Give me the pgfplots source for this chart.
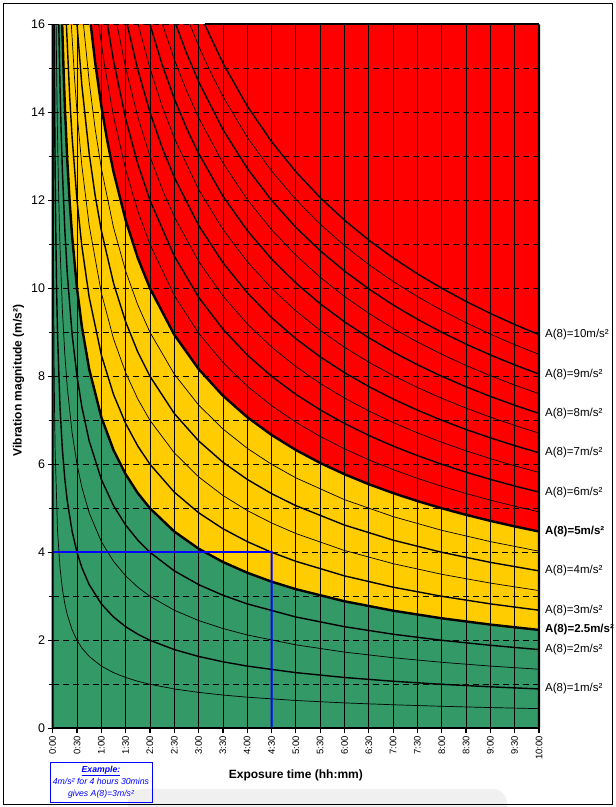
\documentclass[border=0pt]{standalone}
\usepackage{pgfplots}
\pgfplotsset{compat=1.18}
\usepackage{fontspec}
\setmainfont{Liberation Sans}
\definecolor{zgreen}{HTML}{339966}
\definecolor{zyellow}{HTML}{FFCC00}
\definecolor{zred}{HTML}{FF0000}
\begin{document}
\begin{tikzpicture}[x=1bp,y=1bp,
  half/.style={black, line width=0.7bp},
  full/.style={black, line width=1.4bp},
  bound/.style={black, line width=2.4bp},
  vgrid/.style={black, line width=0.8bp},
  hgrid/.style={black, line width=0.9bp, dash pattern=on 6bp off 4bp},
  lab/.style={anchor=west, inner sep=0, xshift=6bp, font=\fontsize{11.5bp}{13bp}\selectfont},
  labb/.style={anchor=west, inner sep=0, xshift=6bp, font=\fontsize{11.5bp}{13bp}\selectfont\bfseries}]
\path[use as bounding box] (0,0) rectangle (616,807);
\fill[gray!12, rounded corners=14bp] (128,-20) rectangle (507,18);
\draw[line width=0.9bp] (3,3) rectangle (612,804);
\node[draw=blue, line width=0.9bp, minimum width=102bp, minimum height=40bp, inner sep=0, align=center, text=blue,
  font=\fontsize{8.7bp}{12bp}\selectfont\itshape] at (101,25)
  {\textbf{\underline{Example:}}\\4m/s² for 4 hours 30mins\\gives A(8)=3m/s²};
\begin{axis}[
  at={(52.7bp,78.7bp)}, anchor=south west, scale only axis,
  width=486.3bp, height=704bp,
  xmin=0, xmax=10, ymin=0, ymax=16,
  clip=false,
  axis on top,
  axis line style={draw=none},
  tick pos=left, tick align=outside,
  major tick length=5bp, minor tick length=4bp,
  every tick/.style={black, line width=1.2bp},
  xtick={0,0.5,1,1.5,2,2.5,3,3.5,4,4.5,5,5.5,6,6.5,7,7.5,8,8.5,9,9.5,10},
  xticklabels={0:00,0:30,1:00,1:30,2:00,2:30,3:00,3:30,4:00,4:30,5:00,5:30,6:00,6:30,7:00,7:30,8:00,8:30,9:00,9:30,10:00},
  ytick={0,2,4,6,8,10,12,14,16},
  minor ytick={1,3,5,7,9,11,13,15},
  /pgf/number format/assume math mode=true,
  xticklabel style={rotate=90, anchor=east, font=\fontsize{9.5bp}{11bp}\selectfont, inner sep=2.5bp},
  yticklabel style={font=\fontsize{12.5bp}{14bp}\selectfont, inner sep=2.5bp},
  xlabel={Exposure time (hh:mm)},
  ylabel={Vibration magnitude (m/s²)},
  xlabel style={at={(axis description cs:0.5,0)}, anchor=center, yshift=-46.7bp, font=\fontsize{12bp}{14bp}\selectfont\bfseries},
  ylabel style={at={(axis description cs:0,0.5)}, anchor=center, yshift=34.2bp, xshift=-4bp, font=\fontsize{12bp}{14bp}\selectfont\bfseries},
]
% background areas
\addplot[fill=zred, draw=none] coordinates {(0,16) (10,16)} \closedcycle;
\addplot[fill=zyellow, draw=none] coordinates {(0,16) (0.78125,16) (0.875,15.119) (1,14.142) (1.125,13.333) (1.25,12.649) (1.5,11.547) (1.75,10.690) (2,10) (2.5,8.944) (3,8.165) (3.5,7.559) (4,7.071) (4.5,6.667) (5,6.325) (5.5,6.030) (6,5.774) (6.5,5.547) (7,5.345) (7.5,5.164) (8,5) (8.5,4.851) (9,4.714) (9.5,4.588) (10,4.472)} \closedcycle;
\addplot[fill=zgreen, draw=none] coordinates {(0,16) (0.1953,16) (0.225,14.907) (0.25,14.142) (0.3,12.910) (0.35,11.952) (0.4,11.180) (0.5,10) (0.6,9.129) (0.75,8.165) (1,7.071) (1.25,6.325) (1.5,5.774) (1.75,5.345) (2,5) (2.5,4.472) (3,4.082) (3.5,3.780) (4,3.536) (4.5,3.333) (5,3.162) (6,2.887) (7,2.673) (8,2.5) (9,2.357) (10,2.236)} \closedcycle;
% grid
\addplot[vgrid] coordinates {(0.5,0) (0.5,16)};
\addplot[vgrid] coordinates {(1,0) (1,16)};
\addplot[vgrid] coordinates {(1.5,0) (1.5,16)};
\addplot[vgrid] coordinates {(2,0) (2,16)};
\addplot[vgrid] coordinates {(2.5,0) (2.5,16)};
\addplot[vgrid] coordinates {(3,0) (3,16)};
\addplot[vgrid] coordinates {(3.5,0) (3.5,16)};
\addplot[vgrid] coordinates {(4,0) (4,16)};
\addplot[vgrid] coordinates {(4.5,4) (4.5,16)};
\addplot[vgrid] coordinates {(5,0) (5,16)};
\addplot[vgrid] coordinates {(5.5,0) (5.5,16)};
\addplot[vgrid] coordinates {(6,0) (6,16)};
\addplot[vgrid] coordinates {(6.5,0) (6.5,16)};
\addplot[vgrid] coordinates {(7,0) (7,16)};
\addplot[vgrid] coordinates {(7.5,0) (7.5,16)};
\addplot[vgrid] coordinates {(8,0) (8,16)};
\addplot[vgrid] coordinates {(8.5,0) (8.5,16)};
\addplot[vgrid] coordinates {(9,0) (9,16)};
\addplot[vgrid] coordinates {(9.5,0) (9.5,16)};
\addplot[hgrid] coordinates {(0,1) (10,1)};
\addplot[hgrid] coordinates {(0,2) (10,2)};
\addplot[hgrid] coordinates {(0,3) (10,3)};
\addplot[hgrid] coordinates {(4.5,4) (10,4)};
\addplot[hgrid] coordinates {(0,5) (10,5)};
\addplot[hgrid] coordinates {(0,6) (10,6)};
\addplot[hgrid] coordinates {(0,7) (10,7)};
\addplot[hgrid] coordinates {(0,8) (10,8)};
\addplot[hgrid] coordinates {(0,9) (10,9)};
\addplot[hgrid] coordinates {(0,10) (10,10)};
\addplot[hgrid] coordinates {(0,11) (10,11)};
\addplot[hgrid] coordinates {(0,12) (10,12)};
\addplot[hgrid] coordinates {(0,13) (10,13)};
\addplot[hgrid] coordinates {(0,14) (10,14)};
\addplot[hgrid] coordinates {(0,15) (10,15)};
\addplot[hgrid] coordinates {(0,16) (10,16)};
% curves
\addplot[half] coordinates {(0.0078,16) (0.01,14.142) (0.02,10) (0.03,8.165) (0.04,7.071) (0.05,6.325) (0.1,4.472) (0.15,3.651) (0.2,3.162) (0.25,2.828) (0.3,2.582) (0.4,2.236) (0.5,2) (0.6,1.826) (0.75,1.633) (1,1.414) (1.25,1.265) (1.5,1.155) (1.75,1.069) (2,1) (2.5,0.894) (3,0.816) (3.5,0.756) (4,0.707) (5,0.632) (6,0.577) (7,0.535) (8,0.5) (9,0.471) (10,0.447)};
\addplot[full] coordinates {(0.03125,16) (0.04,14.142) (0.05,12.649) (0.06,11.547) (0.08,10) (0.1,8.944) (0.15,7.303) (0.2,6.325) (0.25,5.657) (0.3,5.164) (0.4,4.472) (0.5,4) (0.6,3.651) (0.75,3.266) (1,2.828) (1.25,2.530) (1.5,2.309) (1.75,2.138) (2,2) (2.5,1.789) (3,1.633) (3.5,1.512) (4,1.414) (5,1.265) (6,1.155) (7,1.069) (8,1) (9,0.943) (10,0.894)};
\addplot[half] coordinates {(0.0703,16) (0.08,15) (0.1,13.416) (0.125,12) (0.15,10.954) (0.2,9.487) (0.25,8.485) (0.3,7.746) (0.4,6.708) (0.5,6) (0.6,5.477) (0.75,4.899) (1,4.243) (1.25,3.795) (1.5,3.464) (1.75,3.207) (2,3) (2.5,2.683) (3,2.449) (3.5,2.268) (4,2.121) (5,1.897) (6,1.732) (7,1.604) (8,1.5) (9,1.414) (10,1.342)};
\addplot[full] coordinates {(0.125,16) (0.15,14.606) (0.175,13.522) (0.2,12.649) (0.25,11.314) (0.3,10.328) (0.4,8.944) (0.5,8) (0.6,7.303) (0.75,6.532) (1,5.657) (1.25,5.060) (1.5,4.619) (1.75,4.276) (2,4) (2.5,3.578) (3,3.266) (3.5,3.024) (4,2.828) (5,2.530) (6,2.309) (7,2.138) (8,2) (9,1.886) (10,1.789)};
\addplot[bound] coordinates {(0.1953,16) (0.225,14.907) (0.25,14.142) (0.3,12.910) (0.35,11.952) (0.4,11.180) (0.5,10) (0.6,9.129) (0.75,8.165) (1,7.071) (1.25,6.325) (1.5,5.774) (1.75,5.345) (2,5) (2.5,4.472) (3,4.082) (3.5,3.780) (4,3.536) (4.5,3.333) (5,3.162) (6,2.887) (7,2.673) (8,2.5) (9,2.357) (10,2.236)};
\addplot[full] coordinates {(0.28125,16) (0.35,14.343) (0.4,13.416) (0.5,12) (0.6,10.954) (0.75,9.798) (1,8.485) (1.25,7.589) (1.5,6.928) (1.75,6.414) (2,6) (2.5,5.367) (3,4.899) (3.5,4.536) (4,4.243) (4.5,4) (5,3.795) (6,3.464) (7,3.207) (8,3) (9,2.828) (10,2.683)};
\addplot[half] coordinates {(0.3828,16) (0.45,14.757) (0.5,14) (0.6,12.780) (0.75,11.431) (1,9.899) (1.25,8.854) (1.5,8.083) (1.75,7.483) (2,7) (2.5,6.261) (3,5.715) (3.5,5.292) (4,4.950) (4.5,4.667) (5,4.427) (6,4.041) (7,3.742) (8,3.5) (9,3.300) (10,3.130)};
\addplot[full] coordinates {(0.5,16) (0.6,14.606) (0.75,13.064) (0.875,12.095) (1,11.314) (1.25,10.119) (1.5,9.238) (1.75,8.552) (2,8) (2.5,7.155) (3,6.532) (3.5,6.047) (4,5.657) (4.5,5.333) (5,5.060) (6,4.619) (7,4.276) (8,4) (9,3.771) (10,3.578)};
\addplot[half] coordinates {(0.6328,16) (0.75,14.697) (0.875,13.608) (1,12.728) (1.25,11.384) (1.5,10.392) (1.75,9.621) (2,9) (2.5,8.050) (3,7.348) (3.5,6.804) (4,6.364) (4.5,6) (5,5.692) (6,5.196) (7,4.811) (8,4.5) (9,4.243) (10,4.025)};
\addplot[bound] coordinates {(0.78125,16) (0.875,15.119) (1,14.142) (1.125,13.333) (1.25,12.649) (1.5,11.547) (1.75,10.690) (2,10) (2.5,8.944) (3,8.165) (3.5,7.559) (4,7.071) (4.5,6.667) (5,6.325) (5.5,6.030) (6,5.774) (6.5,5.547) (7,5.345) (7.5,5.164) (8,5) (8.5,4.851) (9,4.714) (9.5,4.588) (10,4.472)};
\addplot[half] coordinates {(0.9453,16) (1.0625,15.092) (1.25,13.914) (1.5,12.702) (1.75,11.759) (2,11) (2.5,9.839) (3,8.981) (3.5,8.315) (4,7.778) (4.5,7.333) (5,6.957) (5.5,6.633) (6,6.351) (6.5,6.102) (7,5.880) (7.5,5.680) (8,5.5) (8.5,5.336) (9,5.185) (9.5,5.047) (10,4.919)};
\addplot[full] coordinates {(1.125,16) (1.25,15.179) (1.5,13.856) (1.75,12.829) (2,12) (2.5,10.733) (3,9.798) (3.5,9.071) (4,8.485) (4.5,8) (5,7.589) (5.5,7.236) (6,6.928) (6.5,6.656) (7,6.414) (7.5,6.197) (8,6) (8.5,5.821) (9,5.657) (9.5,5.506) (10,5.367)};
\addplot[half] coordinates {(1.3203,16) (1.5,15.011) (1.75,13.897) (2,13) (2.25,12.257) (2.5,11.628) (3,10.614) (3.5,9.827) (4,9.192) (4.5,8.667) (5,8.222) (5.5,7.839) (6,7.506) (6.5,7.211) (7,6.949) (7.5,6.713) (8,6.5) (8.5,6.306) (9,6.128) (9.5,5.965) (10,5.814)};
\addplot[full] coordinates {(1.53125,16) (1.75,14.967) (2,14) (2.25,13.199) (2.5,12.522) (3,11.431) (3.5,10.583) (4,9.899) (4.5,9.333) (5,8.854) (5.5,8.442) (6,8.083) (6.5,7.766) (7,7.483) (7.5,7.230) (8,7) (8.5,6.791) (9,6.600) (9.5,6.424) (10,6.261)};
\addplot[half] coordinates {(1.7578,16) (2,15) (2.25,14.142) (2.5,13.416) (3,12.247) (3.5,11.339) (4,10.607) (4.5,10) (5,9.487) (5.5,9.045) (6,8.660) (6.5,8.321) (7,8.018) (7.5,7.746) (8,7.5) (8.5,7.276) (9,7.071) (9.5,6.883) (10,6.708)};
\addplot[full] coordinates {(2,16) (2.25,15.085) (2.5,14.311) (2.75,13.645) (3,13.064) (3.5,12.095) (4,11.314) (4.5,10.667) (5,10.119) (5.5,9.648) (6,9.238) (6.5,8.875) (7,8.552) (7.5,8.262) (8,8) (8.5,7.761) (9,7.542) (9.5,7.342) (10,7.155)};
\addplot[half] coordinates {(2.2578,16) (2.5,15.205) (2.75,14.498) (3,13.880) (3.5,12.851) (4,12.021) (4.5,11.333) (5,10.752) (5.5,10.251) (6,9.815) (6.5,9.430) (7,9.087) (7.5,8.779) (8,8.5) (8.5,8.246) (9,8.014) (9.5,7.800) (10,7.603)};
\addplot[full] coordinates {(2.53125,16) (2.75,15.350) (3,14.697) (3.5,13.607) (4,12.728) (4.5,12) (5,11.384) (5.5,10.854) (6,10.392) (6.5,9.985) (7,9.621) (7.5,9.295) (8,9) (8.5,8.731) (9,8.485) (9.5,8.259) (10,8.050)};
\addplot[half] coordinates {(2.8203,16) (3,15.513) (3.25,14.905) (3.5,14.363) (4,13.435) (4.5,12.667) (5,12.017) (5.5,11.457) (6,10.970) (6.5,10.539) (7,10.156) (7.5,9.812) (8,9.5) (8.5,9.216) (9,8.957) (9.5,8.718) (10,8.497)};
\addplot[full] coordinates {(3.125,16) (3.5,15.119) (4,14.142) (4.5,13.333) (5,12.649) (5.5,12.060) (6,11.547) (6.5,11.094) (7,10.690) (7.5,10.328) (8,10) (8.5,9.701) (9,9.428) (9.5,9.177) (10,8.944)};
% example lines
\addplot[color=blue, line width=1.6bp] coordinates {(0,4) (4.5,4)};
\addplot[fill=blue, draw=none] coordinates {(4.48,0) (4.52,0) (4.52,4.033) (4.48,4.033)} \closedcycle;
% frame lines
\addplot[black, line width=2bp] coordinates {(0,0) (10,0)};
\addplot[black, line width=2bp] coordinates {(3.125,16) (10,16)};
\addplot[fill=black, draw=none] coordinates {(-0.021,0) (0.021,0) (0.021,16) (-0.021,16)} \closedcycle;
\addplot[fill=black, draw=none] coordinates {(9.979,0) (10.021,0) (10.021,16) (9.979,16)} \closedcycle;
% labels
\node[lab] at (axis cs:10,8.944) {A(8)=10m/s²};
\node[lab] at (axis cs:10,8.050) {A(8)=9m/s²};
\node[lab] at (axis cs:10,7.155) {A(8)=8m/s²};
\node[lab] at (axis cs:10,6.261) {A(8)=7m/s²};
\node[lab] at (axis cs:10,5.367) {A(8)=6m/s²};
\node[labb] at (axis cs:10,4.472) {A(8)=5m/s²};
\node[lab] at (axis cs:10,3.578) {A(8)=4m/s²};
\node[lab] at (axis cs:10,2.683) {A(8)=3m/s²};
\node[labb] at (axis cs:10,2.236) {A(8)=2.5m/s²};
\node[lab] at (axis cs:10,1.789) {A(8)=2m/s²};
\node[lab] at (axis cs:10,0.894) {A(8)=1m/s²};
\end{axis}
\end{tikzpicture}
\end{document}
